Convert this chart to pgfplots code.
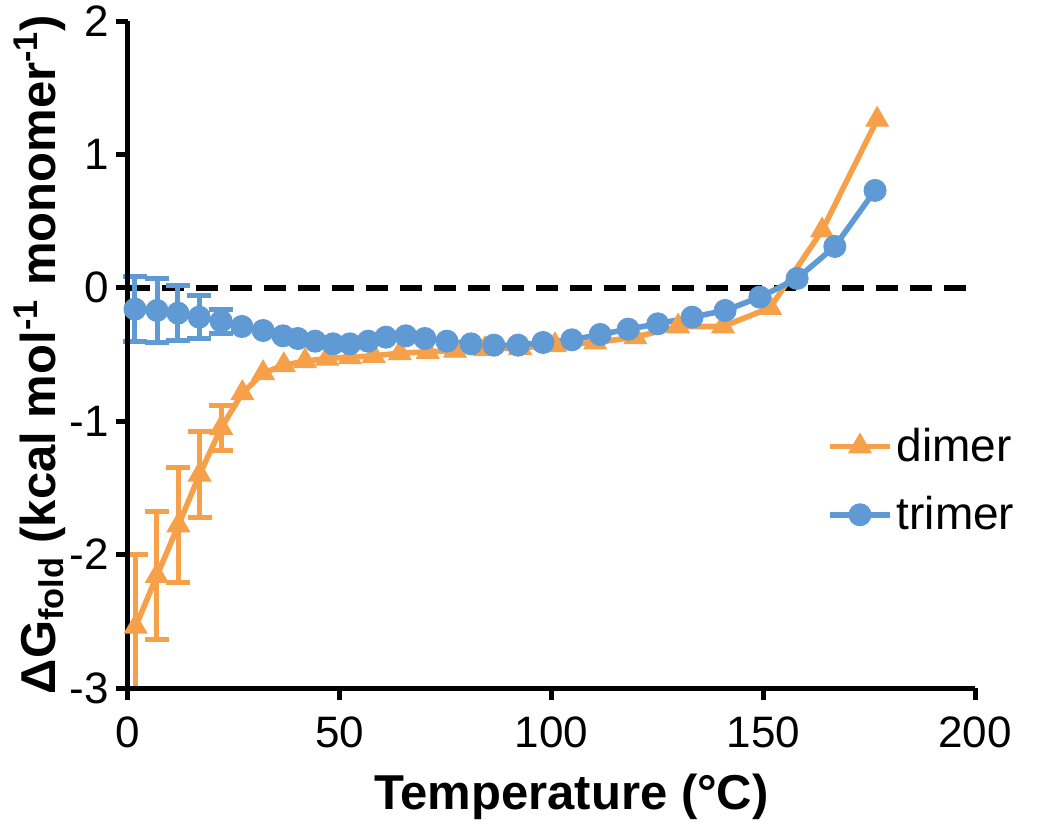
\documentclass[border=0pt]{standalone}
\usepackage{pgfplots}
\pgfplotsset{compat=1.18}
\usepackage{fontspec}
\setmainfont{Liberation Sans}
\definecolor{dimerc}{RGB}{247,160,74}
\definecolor{trimerc}{RGB}{96,154,212}
\begin{document}
\begin{tikzpicture}
\begin{axis}[
  name=ax,
  scale only axis, width=423.5pt, height=333.5pt,
  xmin=0, xmax=200, ymin=-3, ymax=2,
  axis lines=left,
  axis line style={line width=2.5pt, -, black},
  axis on top,
  clip=false,
  xtick={0,50,100,150,200}, xticklabels={0,50,100,150,200},
  ytick={-3,-2,-1,0,1,2}, yticklabels={-3,-2,-1,0,1,2},
  tick align=outside, major tick length=6pt,
  tick style={line width=2.5pt, black},
  tick label style={font=\fontsize{22}{26}\selectfont},
  xticklabel style={yshift=-5pt},
  xlabel={Temperature (°C)},
  ylabel={ΔG\textsubscript{fold} (kcal mol\textsuperscript{-1} monomer\textsuperscript{-1})},
  label style={font=\fontsize{24.5}{28}\selectfont\bfseries},
  xlabel style={xshift=10pt, yshift=-6pt},
  ylabel style={yshift=-5pt},
  legend image code/.code={\draw[mark repeat=2,mark phase=2,#1] plot coordinates {(0pt,0pt)(15pt,0pt)(30pt,0pt)};},
  legend style={at={(axis cs:165,-1.02)}, anchor=north west, draw=none, fill=none,
    font=\fontsize{23}{27}\selectfont, row sep=12pt, inner sep=0pt},
  legend cell align=left,
]
\addplot[black, line width=3pt, dash pattern=on 11pt off 6pt, forget plot] coordinates {(0,0) (200,0)};

% dimer error bars
\addplot[forget plot, only marks, mark=none,
  error bars/.cd, y dir=both, y explicit,
  error bar style={dimerc, line width=2.5pt},
  error mark options={dimerc, rotate=90, mark size=6pt, line width=2.5pt}]
coordinates {
(1.8,-2.54) += (0,0.54) -= (0,0.46)
(6.8,-2.16) +- (0,0.48)
(11.9,-1.78) +- (0,0.43)
(16.9,-1.40) +- (0,0.32)
(22.0,-1.05) +- (0,0.17)
};
% dimer
\addplot[dimerc, line width=2.8pt, mark=triangle*, mark size=6.5pt,
  mark options={solid, fill=dimerc, draw=dimerc, line width=0.5pt}]
coordinates {
(1.8,-2.54) (6.8,-2.16) (11.9,-1.78) (16.9,-1.40) (22.0,-1.05)
(27.0,-0.79) (31.9,-0.64) (36.8,-0.58) (41.8,-0.55) (47.0,-0.53)
(52.4,-0.52) (58.0,-0.51) (64.2,-0.49) (70.8,-0.48) (77.2,-0.47)
(84.3,-0.46) (92.6,-0.45) (100.8,-0.43) (110.3,-0.41) (119.8,-0.37)
(129.9,-0.29) (140.5,-0.29) (151.6,-0.15) (163.9,0.43) (176.9,1.26)
};
\addlegendentry{dimer}

% trimer error bars
\addplot[forget plot, only marks, mark=none,
  error bars/.cd, y dir=both, y explicit,
  error bar style={trimerc, line width=2.5pt},
  error mark options={trimerc, rotate=90, mark size=6pt, line width=2.5pt}]
coordinates {
(1.65,-0.16) +- (0,0.245)
(6.85,-0.17) +- (0,0.24)
(11.8,-0.19) +- (0,0.205)
(16.8,-0.22) +- (0,0.16)
(22.0,-0.25) +- (0,0.09)
};
% trimer
\addplot[trimerc, line width=2.8pt, mark=*, mark size=5.5pt,
  mark options={solid, fill=trimerc, draw=trimerc, line width=0.5pt}]
coordinates {
(1.65,-0.16) (6.85,-0.17) (11.8,-0.19) (16.8,-0.22) (22.0,-0.25)
(26.9,-0.29) (31.9,-0.32) (36.6,-0.36) (40.1,-0.38) (44.2,-0.40)
(48.4,-0.42) (52.4,-0.42) (56.7,-0.40) (60.9,-0.37) (65.6,-0.36)
(70.1,-0.38) (75.3,-0.40) (81.0,-0.42) (86.4,-0.43) (92.1,-0.43)
(98.0,-0.41) (104.8,-0.39) (111.5,-0.35) (118.1,-0.31) (125.1,-0.27)
(133.2,-0.22) (141.0,-0.17) (149.2,-0.07) (158.0,0.07) (166.9,0.31)
(176.4,0.73)
};
\addlegendentry{trimer}
\end{axis}
\pgfresetboundingbox
\path[use as bounding box] ([xshift=-64pt,yshift=-68.5pt]ax.south west) rectangle ([xshift=37.5pt,yshift=10.5pt]ax.north east);
\end{tikzpicture}
\end{document}
